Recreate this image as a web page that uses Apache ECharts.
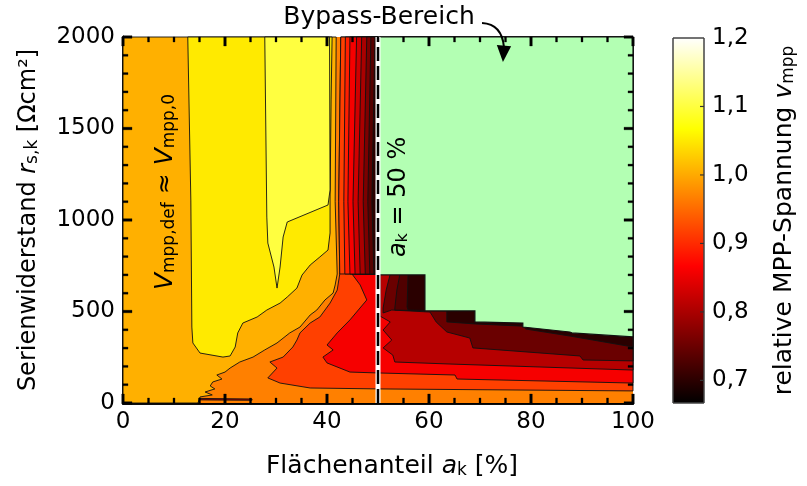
<!DOCTYPE html>
<html><head><meta charset="utf-8">
<script src="https://cdn.jsdelivr.net/npm/echarts@6.0.0/dist/echarts.min.js"></script>
<style>html,body{margin:0;padding:0;background:#fff}#c{width:807px;height:486px}</style>
</head><body><div id="c"></div>
<script>
const FONT = 'DejaVu Sans';
const xRange = [0, 100];
const yRange = [0, 2000];
const xMajorTicks = [0, 20, 40, 60, 80, 100];
const yMajorTicks = [0, 500, 1000, 1500, 2000];
const xMinorStep = 5, yMinorStep = 100;
const cbRange = [0.667, 1.2];
const cbTicks = [0.7, 0.8, 0.9, 1.0, 1.1, 1.2];
const hotStops = [[0,0,0],[85,0,0],[170,0,0],[255,0,0],[255,85,0],[255,170,0],[255,255,0],[255,255,128],[255,255,255]];

// contour regions (a_k [%], r_s,k [Ohm cm2]) and their band value
const fieldBase = [[0,0],[100,0],[100,2000],[0,2000]];
const bandG = [[0,2000],[41.8,2000],[41.6,1100],[42.0,705],[41.6,645],[41.2,601],[39.6,563],[38.0,508],[36.7,481],[34.7,415],[32.7,383],[30.2,328],[27.8,290],[25.5,251],[22.9,224],[21.0,191],[20.0,169],[18.4,153],[19.4,131],[17.6,115],[17.1,93],[18.0,77],[16.1,60],[17.5,44],[15.1,33],[14.7,0],[0,0]];
const bandY = [[12.7,2000],[13.3,1109],[13.5,415],[13.7,328],[15.1,273],[19.6,251],[21.0,257],[22.0,306],[22.5,383],[23.5,437],[26.3,470],[28.2,508],[30.8,546],[32.2,579],[34.1,628],[35.1,699],[36.7,754],[38.6,798],[40.2,836],[40.6,929],[40.6,1109],[40.8,1656],[41.0,2000]];
const bandLY = [[27.8,2000],[28.2,1016],[28.4,874],[29.6,743],[30.2,628],[30.8,743],[31.4,907],[32.2,989],[40.2,1082],[40.6,1164],[40.5,2000]];
const bandSliver = [[15.1,25],[25.3,22],[25.3,15],[15.1,17]];
const bandOR = [[42.7,2000],[42.3,1100],[42.5,705],[42.0,617],[40.6,546],[38.6,470],[36.7,437],[34.7,383],[34.1,344],[33.3,306],[31.4,251],[28.8,224],[30.2,191],[28.4,137],[30.8,109],[36.7,82],[50.2,77],[100,66],[100,2000]];
const bandR = [[44.9,705],[46.5,645],[47.8,563],[44.5,454],[42.0,383],[40.0,317],[41.2,290],[39.2,251],[40.0,219],[44.5,169],[50.2,164],[65.1,153],[65.5,131],[100,109],[100,2000],[50,2000],[50,705]];
const steepLines = [
  [[42.7,2000],[42.3,1100],[42.5,705]],
  [[43.6,2000],[43.3,1100],[43.5,705]],
  [[44.5,2000],[44.1,1100],[44.5,705]],
  [[45.8,2000],[45.1,1100],[45.5,705]],
  [[46.8,2000],[46.1,1100],[46.5,705]],
  [[47.8,2000],[47.1,1100],[47.5,705]],
  [[48.6,2000],[48.0,1100],[48.4,705]],
  [[49.4,2000],[48.8,1100],[49.2,705]]
];
const steepValues = [0.917, 0.89, 0.86, 0.83, 0.80, 0.765, 0.735, 0.70];
const band81 = [[50.4,2000],[100,2000],[100,180],[64.1,213],[53.3,224],[52.9,262],[51.0,301],[52.7,344],[51.0,399],[52.4,443],[50.4,475]];
const band75 = [[52.4,2000],[52.4,705],[51.6,617],[51.0,519],[51.0,492],[52.7,508],[60.2,497],[61.4,443],[63.5,388],[68.0,355],[68.6,301],[89.6,257],[90.2,235],[100,230],[100,2000]];
const band73 = [[54.3,2000],[54.3,705],[53.7,617],[53.3,519],[53.3,508],[59.2,503],[59.2,2000]];
const band70 = [[55.9,2000],[55.9,705],[55.7,525],[55.9,508],[63.5,503],[63.5,443],[69.0,432],[78.4,420],[79.0,404],[87.6,366],[100,306],[100,2000]];
const bypassArea = [[50,2000],[100,2000],[100,361],[88.0,383],[87.6,388],[78.4,415],[78.4,437],[69.0,443],[69.0,503],[59.2,503],[59.2,700],[50,700]];
const dividerLine = [[50,0],[50,2000]];

// annotation anchors in data units
const bypassLabelAt = [50.2, 2104];
const arrowPath = {start:[70.4,2077], ctrl:[74.3,2071], end:[74.7,1945]};
const arrowHead = [[73.3,1956],[76.1,1950],[74.5,1863]];
const vLabelAt = [8.4, 1153];
const aLabelAt = [54.1, 1126];

const layers = [{poly: fieldBase, v: 0.967, stroke: false},
  {poly: bandG, v: 1.005}, {poly: bandY, v: 1.05}, {poly: bandLY, v: 1.1},
  {poly: bandSliver, v: 0.80}, {poly: bandOR, v: 0.917}, {poly: bandR, v: 0.86}];
steepLines.forEach((ln, k) => {
  layers.push({poly: [ln[2], ln[1], ln[0], [50,2000], [50,705]], v: steepValues[k]});
});
layers.push({poly: band81, v: 0.81}, {poly: band75, v: 0.75}, {poly: band73, v: 0.73}, {poly: band70, v: 0.70});
layers.push({poly: bypassArea, fill: '#b3ffb3', lw: 1.2});

// inward ticks along the frame, drawn as the last layers of the same series
for (let v = xRange[0]; v <= xRange[1]; v += xMinorStep) {
  const m = xMajorTicks.includes(v);
  layers.push({tick: true, at: [v, yRange[0]], dir: [0, -1], major: m});
  layers.push({tick: true, at: [v, yRange[1]], dir: [0, 1], major: m});
}
for (let v = yRange[0]; v <= yRange[1]; v += yMinorStep) {
  const m = yMajorTicks.includes(v);
  layers.push({tick: true, at: [xRange[0], v], dir: [1, 0], major: m});
  layers.push({tick: true, at: [xRange[1], v], dir: [-1, 0], major: m});
}

function hot(v){
  let t = (v - cbRange[0]) / (cbRange[1] - cbRange[0]);
  t = Math.max(0, Math.min(1, t));
  const f = t * 8; const i = Math.min(7, Math.floor(f)); const r = f - i;
  const a = hotStops[i], b = hotStops[i+1];
  const c = a.map((x, j) => Math.round(x + (b[j] - x) * r));
  return 'rgb(' + c.join(',') + ')';
}
function tickPolygon(p, dir, len, w){
  const hx = dir[0] === 0 ? w/2 : 0, hy = dir[1] === 0 ? w/2 : 0;
  const ex = p[0] + dir[0]*len, ey = p[1] + dir[1]*len;
  return [[p[0]-hx, p[1]-hy], [p[0]+hx, p[1]+hy], [ex+hx, ey+hy], [ex-hx, ey-hy]];
}

const axisLineStyle = {color:'#000', width:2.5};
function frameAxis(extra){
  return Object.assign({
    type:'value',
    axisLine:{show:true, lineStyle:axisLineStyle},
    axisTick:{show:false}, minorTick:{show:false},
    splitLine:{show:false}, minorSplitLine:{show:false},
    axisLabel:{fontSize:23, fontFamily:FONT, color:'#000', margin:8, formatter: v => String(v)}
  }, extra);
}
const nameRich = {
  n:{fontSize:24, fontFamily:FONT, color:'#000'},
  i:{fontSize:24, fontFamily:FONT, color:'#000', fontStyle:'italic'},
  s:{fontSize:17, fontFamily:FONT, color:'#000', verticalAlign:'bottom'}
};
const nameRich25 = {
  n:{fontSize:25, fontFamily:FONT, color:'#000'},
  i:{fontSize:25, fontFamily:FONT, color:'#000', fontStyle:'italic'},
  s:{fontSize:17, fontFamily:FONT, color:'#000', verticalAlign:'bottom'}
};

const chart = echarts.init(document.getElementById('c'), null, {renderer:'canvas'});
const option = {
  animation:false,
  backgroundColor:'#fff',
  grid:[{left:123, right:174, top:37, bottom:83}, {left:673, top:38, width:31, height:365}],
  xAxis:[
    frameAxis({gridIndex:0, min:xRange[0], max:xRange[1], interval:20, position:'bottom',
      name:'{n|Flächenanteil }{i|a}{s|k}{n| [%]}', nameLocation:'middle', nameGap:51,
      nameTextStyle:{fontSize:25, fontFamily:FONT, color:'#000', padding:[0,0,0,28], rich:nameRich25}}),
    frameAxis({gridIndex:0, min:xRange[0], max:xRange[1], interval:20, position:'top', axisLabel:{show:false}}),
    {gridIndex:1, type:'value', min:0, max:1, show:false}
  ],
  yAxis:[
    frameAxis({gridIndex:0, min:yRange[0], max:yRange[1], interval:500, position:'left',
      name:'{n|Serienwiderstand }{i|r}{s|s,k}{n| [Ωcm²]}', nameLocation:'middle', nameGap:82, nameRotate:90,
      nameTextStyle:{fontSize:24, fontFamily:FONT, color:'#000', rich:nameRich}}),
    frameAxis({gridIndex:0, min:yRange[0], max:yRange[1], interval:500, position:'right', axisLabel:{show:false}}),
    {gridIndex:1, type:'value', min:cbRange[0], max:cbRange[1], position:'right',
      axisLine:{show:false}, splitLine:{show:false}, axisTick:{show:false},
      axisLabel:{customValues:cbTicks, formatter:v => v.toFixed(1).replace('.', ','), fontSize:23, fontFamily:FONT, color:'#000', margin:8},
      name:'{n|relative MPP-Spannung }{i|v}{s|mpp}', nameLocation:'middle', nameRotate:90, nameGap:68,
      nameTextStyle:{fontSize:25, fontFamily:FONT, color:'#000', rich:nameRich25}}
  ],
  series:[
    {type:'custom', name:'contour', xAxisIndex:0, yAxisIndex:0, clip:false, z:2, silent:true,
      data: layers.map((l, i) => [i, l.v == null ? 0 : l.v]),
      renderItem:(params, api) => {
        const L = layers[params.dataIndex];
        if (L.tick) {
          const p = api.coord(L.at);
          return {type:'polygon', z2:100, shape:{points: tickPolygon(p, L.dir, L.major ? 9 : 5, L.major ? 2.6 : 2)},
            style:{fill:'#000', stroke:'#000', lineWidth:0.3}};
        }
        const pts = L.poly.map(p => api.coord(p));
        return {type:'polygon', shape:{points:pts},
          style:{fill: L.fill || hot(L.v), stroke: L.stroke === false ? null : '#111', lineWidth: L.lw || 0.9}};
      }},
    {type:'line', xAxisIndex:0, yAxisIndex:0, data:dividerLine, symbol:'none', z:1, silent:true,
      lineStyle:{color:'#fff', width:5}},
    {type:'line', xAxisIndex:0, yAxisIndex:0, data:dividerLine, symbol:'none', z:1, silent:true,
      lineStyle:{color:'#000', width:2.5, type:[14,5]}},
    {type:'custom', name:'colorbar', xAxisIndex:2, yAxisIndex:2, z:2, silent:true,
      data:[[0]],
      renderItem:(params, api) => {
        const a = api.coord([0, cbRange[0]]), b = api.coord([1, cbRange[1]]);
        const stops = hotStops.map((c, k) => ({offset:k/8, color:'rgb(' + c.join(',') + ')'}));
        const children = [{type:'rect', shape:{x:a[0], y:b[1], width:b[0]-a[0], height:a[1]-b[1]},
          style:{fill:new echarts.graphic.LinearGradient(0, 1, 0, 0, stops), stroke:'#444', lineWidth:1}}];
        cbTicks.slice(0, 5).forEach(v => {
          const p = api.coord([1, v]);
          children.push({type:'polygon', shape:{points: tickPolygon(p, [-1, 0], 4, 1.2)}, style:{fill:'#333'}});
        });
        return {type:'group', children};
      }}
  ]
};
chart.setOption(option);

const P = p => chart.convertToPixel({gridIndex:0}, p);
const lb = P(bypassLabelAt), s0 = P(arrowPath.start), c0 = P(arrowPath.ctrl), e0 = P(arrowPath.end);
const vl = P(vLabelAt), al = P(aLabelAt);
const gRich = {
  n:{fontSize:25, fontFamily:FONT, fill:'#000'},
  i:{fontSize:25, fontFamily:FONT, fill:'#000', fontStyle:'italic'},
  s:{fontSize:17, fontFamily:FONT, fill:'#000', verticalAlign:'bottom'}
};
const gRich2 = {
  n:{fontSize:24, fontFamily:FONT, fill:'#000'},
  i:{fontSize:24, fontFamily:FONT, fill:'#000', fontStyle:'italic'},
  s:{fontSize:16, fontFamily:FONT, fill:'#000', verticalAlign:'bottom'}
};
// dashed divider is drawn over the contour layers by a graphic copy positioned from data coordinates
const d0 = P(dividerLine[0]), d1 = P(dividerLine[1]);
chart.setOption({graphic:[
  {type:'polyline', z:15, silent:true, shape:{points:[d0, d1]}, style:{stroke:'#fff', lineWidth:5, fill:null}},
  {type:'polyline', z:16, silent:true, shape:{points:[d0, d1]}, style:{stroke:'#000', lineWidth:2.5, lineDash:[14,5], fill:null}},
  {type:'text', x:lb[0], y:lb[1], z:20, style:{text:'Bypass-Bereich', fontSize:25, fontFamily:FONT, fill:'#000', align:'center', verticalAlign:'middle'}},
  {type:'bezierCurve', z:20, shape:{x1:s0[0], y1:s0[1], cpx1:c0[0], cpy1:c0[1], x2:e0[0], y2:e0[1]}, style:{stroke:'#000', lineWidth:2, fill:null}},
  {type:'polygon', z:20, shape:{points:arrowHead.map(P)}, style:{fill:'#000'}},
  {type:'text', x:vl[0], y:vl[1], rotation:Math.PI/2, z:20, style:{text:'{i|V}{s|mpp,def}{n| ≈ }{i|V}{s|mpp,0}', rich:gRich, align:'center', verticalAlign:'middle'}},
  {type:'text', x:al[0], y:al[1], rotation:Math.PI/2, z:20, style:{text:'{i|a}{s|k}{n| = 50 %}', rich:gRich2, align:'center', verticalAlign:'middle'}}
]});
</script></body></html>
